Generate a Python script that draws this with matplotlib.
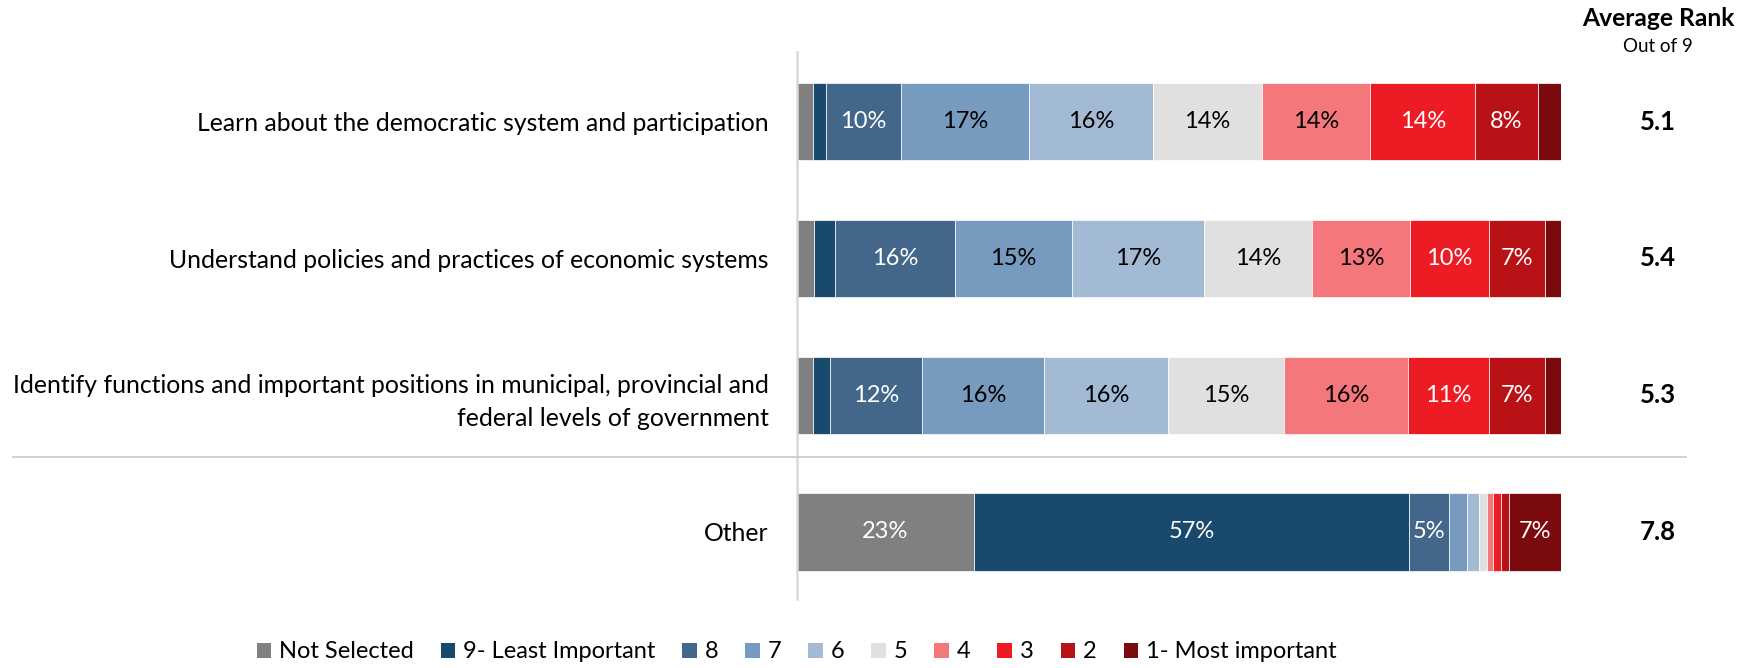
import matplotlib
matplotlib.use("Agg")
import matplotlib.pyplot as plt
import matplotlib.transforms as mtransforms
from matplotlib.lines import Line2D
from matplotlib.patches import Patch

plt.rcParams["font.family"] = ["Lato", "DejaVu Sans"]

# ---- data -------------------------------------------------------------
categories = [
    "Learn about the democratic system and participation",
    "Understand policies and practices of economic systems",
    "Identify functions and important positions in municipal, provincial and\nfederal levels of government",
    "Other",
]
series_names = ["Not Selected", "9- Least Important", "8", "7", "6", "5", "4", "3", "2",
                "1- Most important"]

not_selected = [2.1, 2.3, 2.1, 23.2]
rank9 = [1.7, 2.7, 2.3, 57.0]
rank8 = [9.8, 15.7, 12.0, 5.2]
rank7 = [16.8, 15.3, 16.0, 2.4]
rank6 = [16.2, 17.3, 16.2, 1.5]
rank5 = [14.3, 14.1, 15.2, 1.0]
rank4 = [14.2, 12.9, 16.2, 0.9]
rank3 = [13.7, 10.3, 10.6, 1.0]
rank2 = [8.2, 7.3, 7.3, 1.0]
rank1 = [3.0, 2.1, 2.1, 6.8]

avg_rank = [5.1, 5.4, 5.3, 7.8]

series_values = [not_selected, rank9, rank8, rank7, rank6, rank5, rank4, rank3, rank2, rank1]
colors = ["#808080", "#194A6E", "#43678A", "#769BBF", "#A3BAD4", "#E0E0E0",
          "#F4777C", "#ED1C24", "#B81116", "#7A0A0D"]
text_colors = ["white", "white", "white", "black", "black", "black", "black",
               "white", "white", "white"]

# ---- figure -------------------------------------------------------------
W, H = 1739, 668
fig = plt.figure(figsize=(W / 100, H / 100), dpi=100)
ax = fig.add_axes([796.7 / W, 1 - 599 / H, 764 / W, 547 / H])

ypos = list(range(len(categories)))
left = [0.0] * len(categories)
bar_h = 0.566
for vals, col, tcol in zip(series_values, colors, text_colors):
    ax.barh(ypos, vals, left=left, height=bar_h, color=col, edgecolor="white",
            linewidth=0.5)
    for y, v, l in zip(ypos, vals, left):
        if v >= 4.5:
            ax.text(l + v / 2, y, f"{v:.0f}%", ha="center", va="center",
                    color=tcol, fontsize=17)
    left = [l + v for l, v in zip(left, vals)]

ax.set_xlim(0, 100)
ax.set_ylim(3.49, -0.51)
ax.set_yticks(ypos)
ax.set_yticklabels(categories, fontsize=17.8, ha="right", multialignment="right",
                   linespacing=1.5)
ax.tick_params(axis="y", length=0, pad=20)
ax.set_xticks([])
for side in ["top", "right", "bottom"]:
    ax.spines[side].set_visible(False)
ax.spines["left"].set_color("#D9D9D9")
ax.spines["left"].set_linewidth(1.8)

# separator between the three topics and "Other"
trans = mtransforms.blended_transform_factory(fig.transFigure, ax.transData)
fig.add_artist(Line2D([13 / W, 1686 / W], [2.45, 2.45], transform=trans,
                      color="#C8C8C8", linewidth=1.2))

# average rank column
xr = 1658 / W
fig.text(xr, 1 - 18 / H, "Average Rank", ha="center", va="center",
         fontsize=17.7, fontweight="bold")
fig.text(xr, 1 - 47 / H, "Out of 9", ha="center", va="center", fontsize=13.5)
for y, r in zip(ypos, avg_rank):
    ax.text(xr, y, f"{r:.1f}", transform=trans, ha="center", va="center",
            fontsize=18.5, fontweight="bold")

# legend
handles = [Patch(facecolor=c, edgecolor="none") for c in colors]
fig.legend(handles, series_names, loc="center", ncol=len(series_names),
           bbox_to_anchor=(796.5 / W, 1 - 652 / H), frameon=False,
           fontsize=17, handlelength=0.61, handleheight=0.61, handletextpad=0.33,
           columnspacing=1.15, borderaxespad=0)

fig.savefig("out.png", dpi=100)
